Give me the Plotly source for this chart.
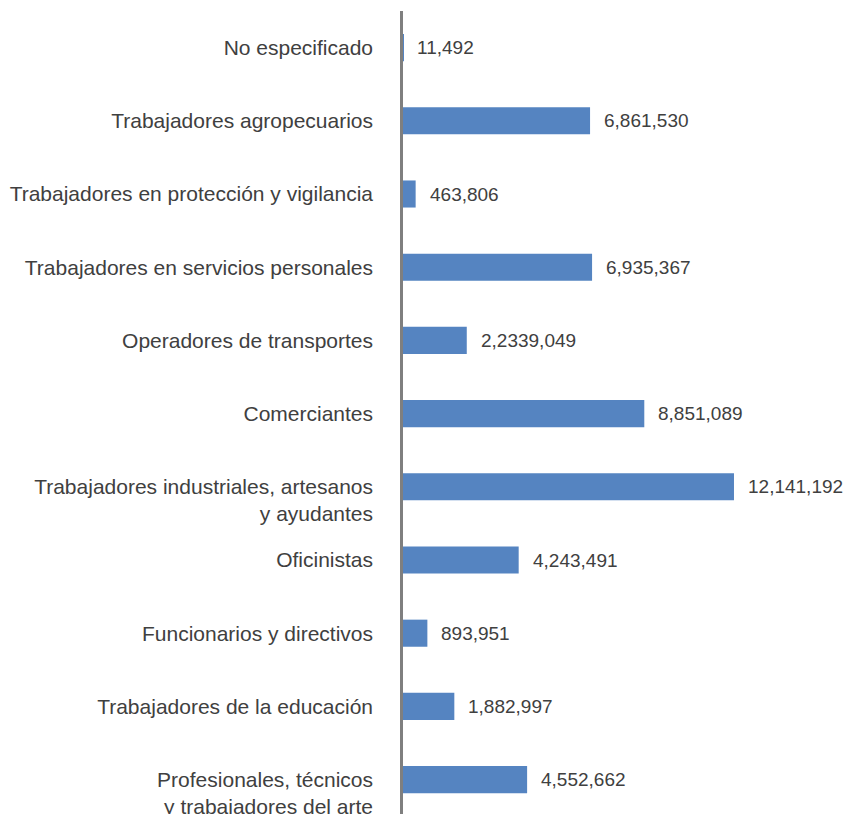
import plotly.graph_objects as go

# Occupational groups, listed top to bottom
categories = [
    "No especificado",
    "Trabajadores agropecuarios",
    "Trabajadores en protección y vigilancia",
    "Trabajadores en servicios personales",
    "Operadores de transportes",
    "Comerciantes",
    "Trabajadores industriales, artesanos<br>y ayudantes",
    "Oficinistas",
    "Funcionarios y directivos",
    "Trabajadores de la educación",
    "Profesionales, técnicos<br>y trabajadores del arte",
]
values = [
    11492,
    6861530,
    463806,
    6935367,
    2339049,
    8851089,
    12141192,
    4243491,
    893951,
    1882997,
    4552662,
]
value_labels = [
    "11,492",
    "6,861,530",
    "463,806",
    "6,935,367",
    "2,2339,049",
    "8,851,089",
    "12,141,192",
    "4,243,491",
    "893,951",
    "1,882,997",
    "4,552,662",
]

FONT = "Liberation Sans, Arial, sans-serif"
TEXT_COLOR = "#404040"

# Two-line labels are hung from the first line, so pad with an empty line above
tick_text = [(" <br>" + c) if "<br>" in c else c for c in categories]

fig = go.Figure(
    go.Bar(
        x=values,
        y=categories,
        orientation="h",
        width=0.37,
        marker=dict(color="#5584c1", line=dict(width=0)),
        hoverinfo="x+y",
    )
)

for cat, val, lab in zip(categories, values, value_labels):
    fig.add_annotation(
        x=val, y=cat, text=lab, showarrow=False,
        xanchor="left", yanchor="middle", xshift=12,
        font=dict(family=FONT, size=19, color=TEXT_COLOR),
    )

fig.update_layout(
    width=843,
    height=814,
    margin=dict(l=403, r=0, t=11, b=0, autoexpand=False),
    paper_bgcolor="white",
    plot_bgcolor="white",
    showlegend=False,
    font=dict(family=FONT, size=21, color=TEXT_COLOR),
    xaxis=dict(
        range=[0, 16140000],
        visible=False,
        showgrid=False,
        zeroline=False,
        automargin=False,
    ),
    yaxis=dict(
        type="category",
        categoryorder="array",
        categoryarray=categories,
        range=[len(categories) - 1 + 0.47, -0.5],
        tickmode="array",
        tickvals=categories,
        ticktext=tick_text,
        showline=True,
        linecolor="#7f7f7f",
        linewidth=2.5,
        ticks="",
        ticklabelstandoff=23,
        showgrid=False,
        zeroline=False,
        automargin=False,
        tickfont=dict(family=FONT, size=21, color=TEXT_COLOR),
    ),
)

fig.write_html("out.html")
